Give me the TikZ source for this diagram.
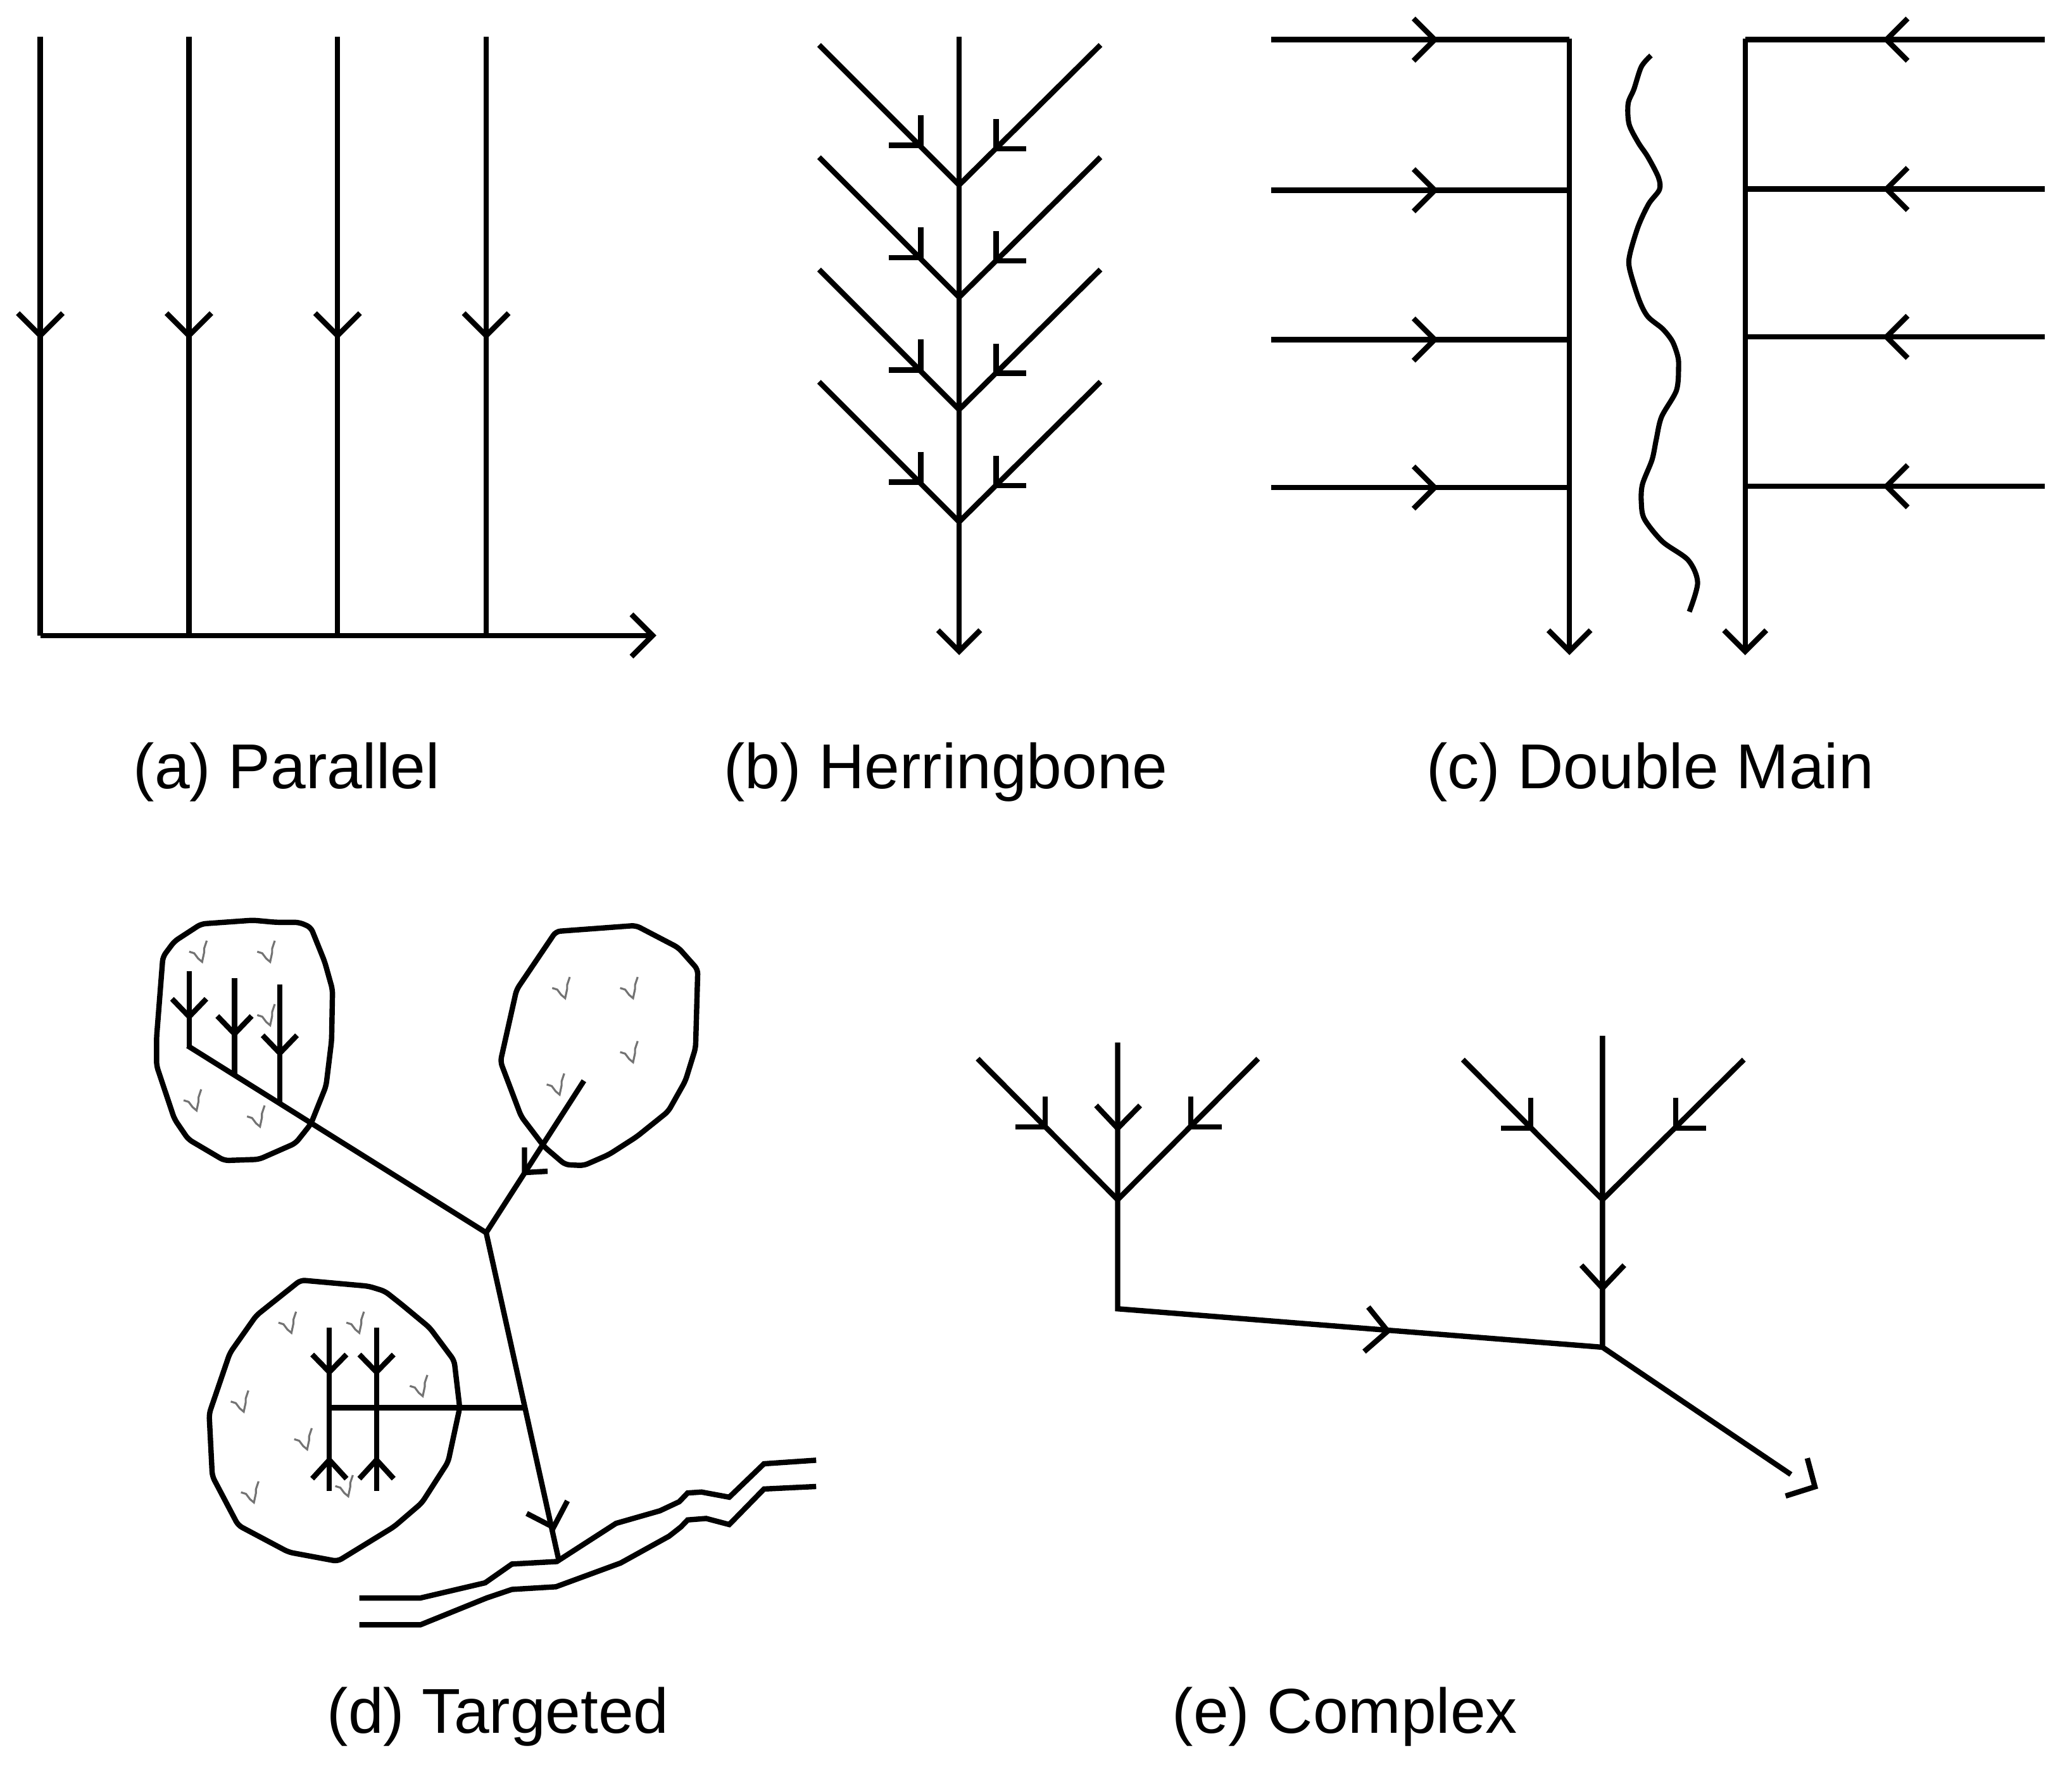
\documentclass[tikz,border=0pt]{standalone}
\usepackage{fontspec}
\setmainfont{Liberation Sans}
\tikzstyle{flow} = [line width=2.4pt, draw=black]
\tikzstyle{blob} = [line width=2.4pt, draw=black, rounded corners=2pt]
\tikzstyle{wiggle} = [line width=2.3pt, draw=black]
\tikzstyle{tick} = [line width=0.9pt, draw=black!55]
\tikzstyle{caption} = [anchor=base, inner sep=0pt, font=\fontsize{28.5}{32}\selectfont]
% chevron: first arm, tip, second arm
\newcommand{\chevron}[3]{\draw[flow] #1 -- #2 -- #3;}
\newcommand{\wettick}[1]{\draw[tick, shift={#1}] (-9.8,-7.7) -- (-6,-6.5) -- (-3,-2.5) -- (0,0) -- (1.5,-7) -- (1.5,-10) -- (3.5,-16);}
\begin{document}
\begin{tikzpicture}[x=0.020868cm, y=-0.020868cm]
  \useasboundingbox (0,0) rectangle (1568.4,1337.4);

  % (a) parallel
  \coordinate (a0) at (30.5,481);
  \coordinate (aout) at (492,481);
  \foreach \x [count=\i] in {30.5,143,255.5,368}{
    \coordinate (a\i) at (\x,481);
    \coordinate (atop\i) at (\x,28);
    \draw[flow] (atop\i) -- (a\i);
    \chevron{(\x-17,237)}{(\x,254)}{(\x+17,237)}
  }
  \draw[flow] (a0) -- (aout);
  \chevron{(478,465)}{(494,481)}{(478,497)}
  \node[caption](capa) at (217,597){(a) Parallel};

  % (b) herringbone
  \coordinate (btop) at (726,28);
  \coordinate (bout) at (726,491);
  \draw[flow] (btop) -- (bout);
  \chevron{(710,477)}{(726,493)}{(742,477)}
  \foreach \j in {140,225,310,395}{
    \coordinate (bj) at (726,\j);
    \coordinate (bl) at (620,\j-106);
    \coordinate (br) at (833,\j-106);
    \draw[flow] (bl) -- (bj) -- (br);
    \chevron{(697,\j-53)}{(697,\j-30)}{(673,\j-30)}
    \chevron{(754,\j-50)}{(754,\j-27.5)}{(777,\j-27.5)}
  }
  \node[caption](capb) at (716,597){(b) Herringbone};

  % (c) double main
  \coordinate (cl) at (1188,29);
  \coordinate (clout) at (1188,491);
  \coordinate (cr) at (1321,29);
  \coordinate (crout) at (1321,491);
  \draw[flow] (cl) -- (clout);
  \draw[flow] (cr) -- (crout);
  \chevron{(1172,477)}{(1188,493)}{(1204,477)}
  \chevron{(1305,477)}{(1321,493)}{(1337,477)}
  \foreach \y in {30,144,257,369}{
    \coordinate (cin) at (962,\y);
    \coordinate (cend) at (1188,\y);
    \draw[flow] (cin) -- (cend);
    \chevron{(1070,\y-16)}{(1086,\y)}{(1070,\y+16)}
  }
  \foreach \y in {30,143,255,368}{
    \coordinate (cin) at (1548,\y);
    \coordinate (cend) at (1321,\y);
    \draw[flow] (cin) -- (cend);
    \chevron{(1444,\y-16)}{(1428,\y)}{(1444,\y+16)}
  }
  \draw[wiggle] plot[smooth, tension=0.5] coordinates {(1249.7,42) (1242.4,50.5) (1236.8,67.5) (1232.4,78.4) (1233.1,93.9) (1240,107.8) (1247.3,118.7) (1255.3,134.2) (1256.1,143.5) (1248,154.3) (1240,171.4) (1233.6,193) (1233.6,203.9) (1240.8,227.2) (1247.3,239.6) (1258.5,248.9) (1265.8,258.2) (1269.8,269) (1270.6,276.8) (1269,295.4) (1257.7,315.5) (1253.7,332.6) (1250.5,348) (1243.2,366.7) (1242.4,380.6) (1244.8,393) (1258.5,410) (1277.9,424) (1285,441) (1278.7,463)};
  \node[caption](capc) at (1249,597){(c) Double Main};

  % (d) targeted
  \begin{scope}[shift={(0,2.5)}]
  \draw[blob] (152.3,696.8) -- (191.5,694) -- (209,695.6) -- (226.5,695.6) -- (235.3,699.4) -- (245.8,725.5) -- (251.7,746.6) -- (251,785) -- (246.8,819.5) -- (235.3,848.2) -- (223.7,862.8) -- (196,875) -- (169.8,875.9) -- (142.5,859.8) -- (132,844.4) -- (118.5,804) -- (118.5,783) -- (123.3,721.7) -- (132,710) -- cycle;
  \draw[blob] (420.8,702.5) -- (481.3,698) -- (513.5,714.8) -- (528.2,731.3) -- (526.5,790.7) -- (518.8,815.6) -- (505.8,838.7) -- (482,857.8) -- (461,871.3) -- (441.8,879.7) -- (427.8,879) -- (412,865.5) -- (394.5,842.5) -- (378.8,801) -- (391,746.6) -- cycle;
  \draw[blob] (227.6,966.4) -- (279,971) -- (291.3,974.8) -- (303.5,984.4) -- (325.2,1002.4) -- (343.8,1027.3) -- (348,1063) -- (339.2,1104) -- (319.3,1135) -- (298.3,1153) -- (255.6,1179.2) -- (218.5,1172.3) -- (180.3,1152) -- (160.7,1114.8) -- (158.3,1067.6) -- (174,1021.6) -- (194,993.2) -- cycle;
  \foreach \p in {(153,725.5),(204.5,725.5),(204.5,773.5),(148.8,838),(196.8,850.2),(427.8,753),(479.2,753),(479.2,801.5),(423.6,826),(220.6,1006.3),(272,1006.3),(320,1054.2),(184.5,1066),(232.5,1094.5),(192.2,1134.7),(263.6,1130)}{
    \wettick{\p}
  }
  \foreach \x/\t/\u/\b in {143.2/732.4/767/789.5,177.5/737.8/780/811.5,211.8/742.8/794.6/833}{
    \coordinate (dst) at (\x,\t);
    \coordinate (dsb) at (\x,\b);
    \draw[flow] (dst) -- (dsb);
    \chevron{(\x-13,\u-13.5)}{(\x,\u)}{(\x+13,\u-13.5)}
  }
  \foreach \x in {249.3,285}{
    \coordinate (dst) at (\x,1002.4);
    \coordinate (dsb) at (\x,1126);
    \draw[flow] (dst) -- (dsb);
    \chevron{(\x-13,1022.7)}{(\x,1036)}{(\x+13,1022.7)}
    \chevron{(\x-13,1116.7)}{(\x,1102.5)}{(\x+13,1116.7)}
  }
  \end{scope}
  \coordinate (djunc) at (368,933);
  \coordinate (dnw) at (142,791.5);
  \coordinate (dne) at (442,818);
  \coordinate (driver) at (423,1181);
  \coordinate (dlat) at (397.8,1065.5);
  \coordinate (dlatend) at (248,1065.5);
  \draw[flow] (dnw) -- (djunc);
  \draw[flow] (dne) -- (djunc);
  \draw[flow] (djunc) -- (driver);
  \draw[flow] (dlat) -- (dlatend);
  \chevron{(397,868.5)}{(397,887.5)}{(414.5,886.5)}
  \chevron{(398.7,1145.5)}{(419,1156)}{(429.5,1136)}
  \draw[flow] (272,1209.5) -- (318.2,1209.5) -- (367.2,1198) -- (387.5,1183.8) -- (421.5,1181.9) -- (466.3,1153) -- (499.5,1143.5) -- (514.2,1136.6) -- (520.5,1130) -- (531,1129.3) -- (552,1133.2) -- (578.3,1107.9) -- (617.8,1105.2);
  \draw[flow] (272,1229.8) -- (318.2,1229.8) -- (368.3,1209.5) -- (387.5,1203) -- (420.8,1201) -- (469.8,1183) -- (506.5,1162.7) -- (515.3,1155.8) -- (520.5,1150.4) -- (534.5,1149.3) -- (552,1153.9) -- (578.3,1127) -- (617.8,1125.1);
  \node[caption](capd) at (377,1312){(d) Targeted};

  % (e) complex
  \coordinate (ej1) at (846,908);
  \coordinate (ej2) at (1213,908);
  \coordinate (ebend) at (846,990.6);
  \coordinate (emeet) at (1213,1019.7);
  \coordinate (eout) at (1355.6,1116);
  \draw[flow] (740,801.3) -- (ej1) -- (952.3,801.3);
  \draw[flow] (846,789) -- (ej1) -- (ebend) -- (emeet);
  \draw[flow] (1107.3,802) -- (ej2) -- (1320,802);
  \draw[flow] (1213,784) -- (ej2) -- (emeet) -- (eout);
  \chevron{(829.7,836.7)}{(846,854)}{(863,836.7)}
  \chevron{(791.2,830)}{(791.2,853)}{(768.6,853)}
  \chevron{(901.4,830)}{(901.4,853)}{(925,853)}
  \chevron{(1158.6,830.7)}{(1158.6,854)}{(1136,854)}
  \chevron{(1268.4,830.7)}{(1268.4,854)}{(1291.4,854)}
  \chevron{(1197,957.6)}{(1213,975)}{(1229.5,957.6)}
  \chevron{(1035.7,989.3)}{(1050.4,1007.5)}{(1032.6,1023)}
  \chevron{(1368,1103.7)}{(1373.8,1125.3)}{(1351.6,1132.3)}
  \node[caption](cape) at (1018,1312){(e) Complex};
\end{tikzpicture}
\end{document}
